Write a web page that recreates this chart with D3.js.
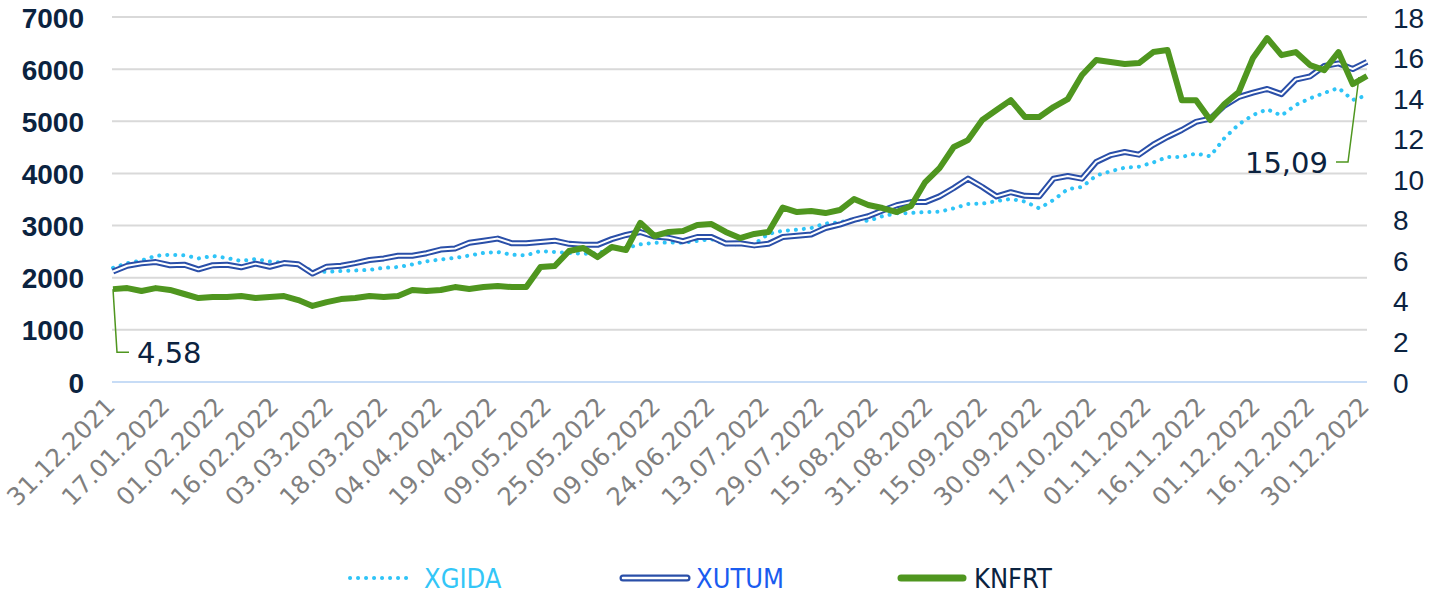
<!DOCTYPE html>
<html>
<head>
<meta charset="utf-8">
<script src="https://cdn.jsdelivr.net/npm/d3@7/dist/d3.min.js"></script>
<style>
  html, body { margin: 0; padding: 0; background: #fff; }
  svg { display: block; }
</style>
</head>
<body>
<div id="chart"></div>
<script>
// tick labels, one every 11 trading days
var dateLabels = ["31.12.2021", "17.01.2022", "01.02.2022", "16.02.2022", "03.03.2022",
    "18.03.2022", "04.04.2022", "19.04.2022", "09.05.2022", "25.05.2022", "09.06.2022",
    "24.06.2022", "13.07.2022", "29.07.2022", "15.08.2022", "31.08.2022", "15.09.2022",
    "30.09.2022", "17.10.2022", "01.11.2022", "16.11.2022", "01.12.2022", "16.12.2022",
    "30.12.2022"];
var labelEvery = 11;

var xgida = [2190, 2280, 2330, 2420, 2440, 2430, 2370, 2417, 2378, 2320,
    2359, 2310, 2290, 2250, 2130, 2110, 2129, 2140, 2150, 2190,
    2205, 2255, 2315, 2350, 2380, 2425, 2475, 2493, 2440, 2430,
    2512, 2493, 2474, 2460, 2470, 2550, 2570, 2640, 2670, 2675,
    2670, 2705, 2740, 2640, 2645, 2645, 2840, 2900, 2920, 2954,
    3040, 3060, 3126, 3088, 3180, 3235, 3241, 3260, 3265, 3330,
    3414, 3420, 3470, 3510, 3460, 3330, 3490, 3700, 3740, 3960,
    4040, 4110, 4130, 4210, 4316, 4316, 4380, 4330, 4680, 4940,
    5121, 5230, 5110, 5313, 5440, 5543, 5640, 5408, 5500];

var xutum = [2120, 2230, 2275, 2300, 2240, 2250, 2160, 2240, 2250, 2200,
    2270, 2210, 2280, 2260, 2080, 2210, 2230, 2280, 2340, 2370,
    2420, 2420, 2470, 2540, 2560, 2670, 2710, 2750, 2660, 2660,
    2685, 2710, 2650, 2630, 2630, 2740, 2820, 2877, 2790, 2765,
    2700, 2780, 2780, 2655, 2660, 2620, 2650, 2780, 2805, 2830,
    2954, 3020, 3110, 3180, 3290, 3390, 3450, 3450, 3560, 3720,
    3900, 3740, 3560, 3640, 3570, 3560, 3900, 3950, 3900, 4220,
    4350, 4411, 4360, 4550, 4700, 4833, 4990, 5050, 5300, 5466,
    5550, 5620, 5520, 5800, 5860, 6060, 6110, 6003, 6140];

var knfrt = [4.58, 4.63, 4.49, 4.63, 4.54, 4.34, 4.14, 4.19, 4.19, 4.24,
    4.14, 4.19, 4.24, 4.04, 3.75, 3.94, 4.09, 4.14, 4.24, 4.19,
    4.24, 4.54, 4.49, 4.54, 4.68, 4.59, 4.68, 4.73, 4.68, 4.68,
    5.67, 5.72, 6.46, 6.61, 6.16, 6.66, 6.51, 7.85, 7.20, 7.40,
    7.45, 7.74, 7.79, 7.40, 7.10, 7.30, 7.40, 8.60, 8.38, 8.43,
    8.33, 8.48, 9.02, 8.73, 8.58, 8.38, 8.68, 9.86, 10.55, 11.59,
    11.93, 12.92, 13.41, 13.90, 13.07, 13.07, 13.56, 13.95, 15.14, 15.88,
    15.78, 15.68, 15.73, 16.27, 16.37, 13.90, 13.90, 12.92, 13.71, 14.30,
    15.98, 16.96, 16.12, 16.27, 15.63, 15.38, 16.27, 14.69, 15.09];

var leftTicks = [0, 1000, 2000, 3000, 4000, 5000, 6000, 7000];
var rightTicks = [0, 2, 4, 6, 8, 10, 12, 14, 16, 18];
var seriesNames = ["XGIDA", "XUTUM", "KNFRT"];

var width = 1445, height = 593;
var margin = {left: 113, right: 1367, top: 17, bottom: 382};

var lastDay = (dateLabels.length - 1) * labelEvery;
// samples are spread evenly over the whole year
var step = lastDay / (knfrt.length - 1);

var svg = d3.select("#chart").append("svg")
    .attr("width", width)
    .attr("height", height);

var x = d3.scaleLinear()
    .domain([0, lastDay])
    .range([margin.left, margin.right]);
var yL = d3.scaleLinear().domain([0, 7000]).range([margin.bottom, margin.top]);
var yR = d3.scaleLinear().domain([0, 18]).range([margin.bottom, margin.top]);

// grid
svg.append("g").selectAll("line")
    .data(leftTicks)
    .enter().append("line")
    .attr("x1", margin.left - 1).attr("x2", margin.right)
    .attr("y1", function (d) { return yL(d); })
    .attr("y2", function (d) { return yL(d); })
    .attr("stroke", function (d) { return d === 0 ? "#c7dcf6" : "#d9d9d9"; })
    .attr("stroke-width", 2);

// left axis
var axisL = svg.append("g")
    .attr("transform", "translate(" + (margin.left - 29) + ",0)")
    .call(d3.axisLeft(yL).tickValues(leftTicks).tickFormat(d3.format("d"))
        .tickSize(0).tickPadding(0));
axisL.select(".domain").remove();
axisL.selectAll("text")
    .attr("dy", "0.36em")
    .style("font-family", "'Liberation Sans', Arial, sans-serif")
    .style("font-weight", "bold")
    .style("font-size", "28px")
    .attr("fill", "#0b2340");

// right axis
var axisR = svg.append("g")
    .attr("transform", "translate(" + (margin.right + 26) + ",0)")
    .call(d3.axisRight(yR).tickValues(rightTicks).tickSize(0).tickPadding(0));
axisR.select(".domain").remove();
axisR.selectAll("text")
    .attr("dy", "0.36em")
    .style("font-family", "'Liberation Sans', Arial, sans-serif")
    .style("font-size", "28px")
    .attr("fill", "#0b2340");

// bottom axis, rotated labels
var axisB = svg.append("g")
    .attr("transform", "translate(-3," + (margin.bottom + 20) + ")")
    .call(d3.axisBottom(x)
        .tickValues(dateLabels.map(function (d, i) { return i * labelEvery; }))
        .tickFormat(function (d) { return dateLabels[d / labelEvery]; })
        .tickSize(0).tickPadding(0));
axisB.select(".domain").remove();
axisB.selectAll("text")
    .attr("text-anchor", "end")
    .attr("y", 0)
    .attr("dy", "0.35em")
    .attr("transform", "rotate(-45)")
    .style("font-family", "'DejaVu Sans', Verdana, sans-serif")
    .style("font-size", "24.5px")
    .attr("fill", "#7f7f7f");

// lines
var lineL = d3.line()
    .x(function (d, i) { return x(i * step); })
    .y(function (d) { return yL(d); });
var lineR = d3.line()
    .x(function (d, i) { return x(i * step); })
    .y(function (d) { return yR(d); });

svg.append("path")
    .attr("d", lineL(xgida))
    .attr("fill", "none")
    .attr("stroke", "#2fc4f7")
    .attr("stroke-width", 4)
    .attr("stroke-linecap", "round")
    .attr("stroke-dasharray", "0.1 7.9");

svg.append("path")
    .attr("d", lineL(xutum))
    .attr("fill", "none")
    .attr("stroke", "#2a4fa8")
    .attr("stroke-width", 6)
    .attr("stroke-linejoin", "round");
svg.append("path")
    .attr("d", lineL(xutum))
    .attr("fill", "none")
    .attr("stroke", "#fff")
    .attr("stroke-width", 2)
    .attr("stroke-linejoin", "round");

svg.append("path")
    .attr("d", lineR(knfrt))
    .attr("fill", "none")
    .attr("stroke", "#4f961f")
    .attr("stroke-width", 6)
    .attr("stroke-linejoin", "round");

// labels for first and last KNFRT values
var fmt = function (v) { return d3.format(".2f")(v).replace(".", ","); };
var first = knfrt[0], last = knfrt[knfrt.length - 1];
var x0 = x(0), y0 = yR(first);
var x1 = x(lastDay), y1 = yR(last);

svg.append("path")
    .attr("d", "M" + x0 + "," + y0 + "L" + (x0 + 4) + "," + (y0 + 63) + "H" + (x0 + 16))
    .attr("fill", "none").attr("stroke", "#4f961f").attr("stroke-width", 1.5);
svg.append("text")
    .attr("x", x0 + 24).attr("y", y0 + 74)
    .style("font-family", "'DejaVu Sans', Verdana, sans-serif")
    .style("font-size", "29px")
    .attr("fill", "#0b2340")
    .text(fmt(first));

svg.append("path")
    .attr("d", "M" + (x1 - 8) + "," + (y1 + 1) + "L" + (x1 - 19) + "," + (y1 + 86) + "H" + (x1 - 31))
    .attr("fill", "none").attr("stroke", "#4f961f").attr("stroke-width", 1.5);
svg.append("text")
    .attr("x", x1 - 39).attr("y", y1 + 97)
    .attr("text-anchor", "end")
    .style("font-family", "'DejaVu Sans', Verdana, sans-serif")
    .style("font-size", "29px")
    .attr("fill", "#0b2340")
    .text(fmt(last));

// legend
var legend = svg.append("g").attr("transform", "translate(0,578)");
var lx = [348, 620, 898];
var textColors = ["#33c6f7", "#1a5cf0", "#0b2340"];

legend.append("line")
    .attr("x1", lx[0] + 2).attr("x2", lx[0] + 66)
    .attr("stroke", "#2fc4f7").attr("stroke-width", 4)
    .attr("stroke-linecap", "round").attr("stroke-dasharray", "0.1 7.9");
legend.append("line")
    .attr("x1", lx[1] + 3).attr("x2", lx[1] + 67)
    .attr("stroke", "#2a4fa8").attr("stroke-width", 7).attr("stroke-linecap", "round");
legend.append("line")
    .attr("x1", lx[1] + 3).attr("x2", lx[1] + 67)
    .attr("stroke", "#fff").attr("stroke-width", 2.5).attr("stroke-linecap", "round");
legend.append("line")
    .attr("x1", lx[2] + 3).attr("x2", lx[2] + 65)
    .attr("stroke", "#4f961f").attr("stroke-width", 7).attr("stroke-linecap", "round");

legend.selectAll("text")
    .data(seriesNames)
    .enter().append("text")
    .attr("x", function (d, i) { return lx[i] + 76; })
    .attr("y", 10)
    .style("font-family", "'DejaVu Sans Condensed', 'DejaVu Sans', sans-serif")
    .style("font-size", "27px")
    .attr("fill", function (d, i) { return textColors[i]; })
    .text(function (d) { return d; });
</script>
</body>
</html>
